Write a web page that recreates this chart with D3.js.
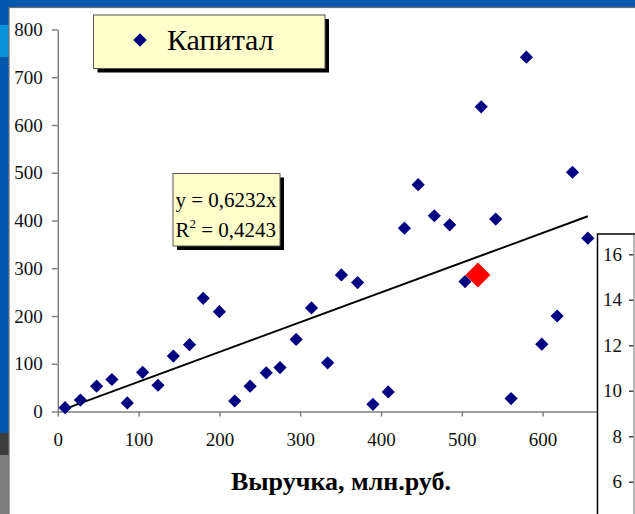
<!DOCTYPE html>
<html>
<head>
<meta charset="utf-8">
<script src="https://cdn.jsdelivr.net/npm/d3@7"></script>
<style>
  html, body { margin: 0; padding: 0; background: #0057ae; }
  svg { display: block; }
</style>
</head>
<body>
<div id="chart"></div>
<script>
// Выручка (x) и капитал (y), млн.руб.
const revenue = [9, 28, 48, 67, 86, 105, 124, 143, 163, 180, 200, 219, 238, 258, 275, 295, 314, 334,
                 351, 371, 390, 409, 429, 446, 466, 485, 504, 524, 542, 561, 580, 599, 618, 637, 656];
const capital = [8, 24, 53, 67, 18, 82, 55, 116, 140, 237, 209, 22, 53, 81, 92, 151, 217, 102,
                 286, 270, 15, 41, 384, 475, 410, 391, 272, 638, 403, 27, 742, 141, 200, 501, 363];
// выделенная точка
const highlightX = [520];
const highlightY = [286];

const slope = 0.6232;
const equationLines = ["y = 0,6232x", "R"];
const xTicks = [0, 100, 200, 300, 400, 500, 600];
const yTicks = [0, 100, 200, 300, 400, 500, 600, 700, 800];
const sideTicks = [6, 8, 10, 12, 14, 16];

const W = 635, H = 514;
const serif = "'Liberation Serif', 'Times New Roman', serif";

const svg = d3.select("#chart").append("svg")
    .attr("width", W).attr("height", H)
    .style("font-family", serif);

// -- slide background --
svg.append("rect").attr("width", W).attr("height", H).attr("fill", "#0057ae");
svg.append("rect").attr("x", 0).attr("y", 25).attr("width", 9).attr("height", 32).attr("fill", "#0a93d9");
svg.append("rect").attr("x", 0).attr("y", 433).attr("width", 9).attr("height", 22).attr("fill", "#3d3d3d");
svg.append("rect").attr("x", 0).attr("y", 455).attr("width", 9).attr("height", 60).attr("fill", "#7f7f7f");

// chart sheet
svg.append("rect")
    .attr("x", 9).attr("y", 7.5).attr("width", W).attr("height", H)
    .attr("fill", "#ffffff").attr("stroke", "#6f6f6f").attr("stroke-width", 1.2);

// -- scales -- (plot runs under the side panel, so cut at its edge)
const x = d3.scaleLinear().domain([0, 668]).range([57.8, 57.8 + 668 * 0.808]);
const y = d3.scaleLinear().domain([0, 800]).range([411.5, 29.5]);

const styleAxis = g => {
    g.select(".domain").attr("stroke", "#808080").attr("stroke-width", 1.5);
    g.selectAll(".tick line").attr("stroke", "#808080").attr("stroke-width", 1.5);
    g.selectAll(".tick text").attr("fill", "#111").style("font-size", "19px").style("font-family", serif);
};

// x axis
svg.append("g")
    .attr("transform", `translate(0,${y(0)})`)
    .call(d3.axisBottom(x).tickValues(xTicks).tickSize(5).tickSizeOuter(0).tickPadding(16))
    .call(styleAxis);

// y axis
svg.append("g")
    .attr("transform", `translate(${x(0)},0)`)
    .call(d3.axisLeft(y).tickValues(yTicks).tickSize(6).tickSizeOuter(0).tickPadding(9))
    .call(styleAxis);

// -- trend line y = 0.6232x --
const xMin = d3.min(revenue), xMax = d3.max(revenue);
svg.append("path")
    .datum([xMin, xMax])
    .attr("d", d3.line().x(d => x(d)).y(d => y(slope * d)))
    .attr("fill", "none")
    .attr("stroke", "#000")
    .attr("stroke-width", 2);

// -- points --
const diamond = r => `M0,${-r}L${r},0L0,${r}L${-r},0Z`;

svg.append("g").selectAll("path")
    .data(d3.range(revenue.length))
    .join("path")
    .attr("d", diamond(6.6))
    .attr("transform", i => `translate(${x(revenue[i])},${y(capital[i])})`)
    .attr("fill", "#000080");

svg.append("g").selectAll("path")
    .data(d3.range(highlightX.length))
    .join("path")
    .attr("d", diamond(12.5))
    .attr("transform", i => `translate(${x(highlightX[i])},${y(highlightY[i])})`)
    .attr("fill", "#ff0000");

// -- legend --
const legend = svg.append("g");
legend.append("rect").attr("x", 97.5).attr("y", 19).attr("width", 231.5).attr("height", 53.5).attr("fill", "#000");
legend.append("rect").attr("x", 93.5).attr("y", 15).attr("width", 231.5).attr("height", 53.5)
    .attr("fill", "#ffffcc").attr("stroke", "#555").attr("stroke-width", 1);
legend.append("path").attr("d", diamond(6.8)).attr("transform", "translate(140,40)").attr("fill", "#000080");
legend.append("text").attr("x", 167).attr("y", 50)
    .style("font-size", "30px").attr("fill", "#000").text("Капитал");

// -- equation box --
const eq = svg.append("g");
eq.append("rect").attr("x", 177).attr("y", 177.5).attr("width", 107).attr("height", 72.5).attr("fill", "#000");
eq.append("rect").attr("x", 173).attr("y", 173.5).attr("width", 107).attr("height", 72.5)
    .attr("fill", "#ffffcc").attr("stroke", "#555").attr("stroke-width", 1);
eq.append("text").attr("x", 175.5).attr("y", 207).style("font-size", "21px").attr("fill", "#000")
    .text(equationLines[0]);
const r2 = eq.append("text").attr("x", 175.5).attr("y", 237).style("font-size", "21px").attr("fill", "#000");
r2.append("tspan").text(equationLines[1]);
r2.append("tspan").attr("dy", -9).style("font-size", "13px").text("2");
r2.append("tspan").attr("dy", 9).text(" = 0,4243");

// -- overlapping side panel --
const sy = d3.scaleLinear().domain([6, 16]).range([481.7, 254.3]);
svg.append("rect").attr("x", 597.5).attr("y", 234).attr("width", 60).attr("height", 300)
    .attr("fill", "#ffffff").attr("stroke", "#000").attr("stroke-width", 1.5);
const side = svg.append("g")
    .attr("transform", "translate(634,0)")
    .call(d3.axisLeft(sy).tickValues(sideTicks).tickSize(5).tickSizeOuter(0).tickPadding(7))
    .call(styleAxis);
side.select(".domain").remove();
side.selectAll(".tick line").attr("stroke", "#444");
svg.append("line").attr("x1", 634).attr("x2", 634).attr("y1", 235).attr("y2", H)
    .attr("stroke", "#a0a0a0").attr("stroke-width", 1.5);

// -- x title --
svg.append("text")
    .attr("x", 341).attr("y", 490)
    .attr("text-anchor", "middle")
    .style("font-size", "26px").style("font-weight", "bold").attr("fill", "#000")
    .text("Выручка, млн.руб.");
</script>
</body>
</html>
